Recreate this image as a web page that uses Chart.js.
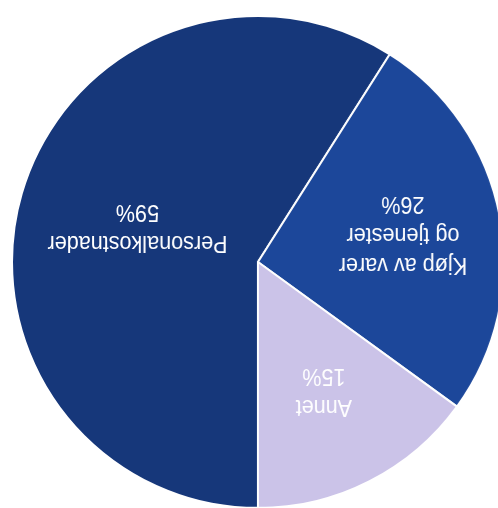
<!DOCTYPE html>
<html>
<head>
<meta charset="utf-8">
<script src="https://cdn.jsdelivr.net/npm/chart.js@4"></script>
<style>
  html, body { margin: 0; padding: 0; background: #fff; overflow: hidden; }
  body { width: 498px; height: 508px; position: relative; }
  /* the scanned page is upside down, so the whole pie is turned 180deg */
  #wrap { position: absolute; left: 11px; top: 15px; width: 494px; height: 494px; transform: rotate(180deg); }
</style>
</head>
<body>
<div id="wrap"><canvas id="pie"></canvas></div>
<script>
const labels = [["Personalkostnader"], ["Kjøp av varer", "og tjenester"], ["Annet"]];
const shares = [59, 26, 15];

const sliceColors = ["#16377a", "#1c479a", "#cbc3e8"];
// how far out along the bisector each label sits (fraction of radius)
const labelDepth = [0.51, 0.6, 0.59];

const sliceLabels = {
  id: "sliceLabels",
  afterDatasetsDraw(chart) {
    const ctx = chart.ctx;
    const arcs = chart.getDatasetMeta(0).data;
    ctx.save();
    ctx.fillStyle = "#ffffff";
    ctx.font = "24px 'Liberation Sans', Arial, sans-serif";
    ctx.textAlign = "center";
    ctx.textBaseline = "middle";
    const lineH = 30.5;
    arcs.forEach((arc, i) => {
      const p = arc.getProps(["x", "y", "startAngle", "endAngle", "outerRadius"], true);
      const mid = (p.startAngle + p.endAngle) / 2;
      const cx = p.x + Math.cos(mid) * p.outerRadius * labelDepth[i];
      const cy = p.y + Math.sin(mid) * p.outerRadius * labelDepth[i];
      const lines = labels[i].concat([shares[i] + "%"]);
      const top = cy - (lines.length - 1) * lineH / 2;
      lines.forEach((t, j) => {
        // the print uses a slightly condensed face
        ctx.save();
        ctx.translate(cx, top + j * lineH);
        ctx.scale(0.9, 1);
        ctx.fillText(t, 0, 0);
        ctx.restore();
      });
    });
    ctx.restore();
  },
};

new Chart(document.getElementById("pie"), {
  type: "pie",
  plugins: [sliceLabels],
  data: {
    labels: labels.map((l) => l.join(" ")),
    datasets: [{
      data: shares,
      backgroundColor: sliceColors,
      borderColor: "#ffffff",
      borderWidth: 2,
    }],
  },
  options: {
    responsive: true,
    maintainAspectRatio: false,
    animation: false,
    layout: { padding: 0 },
    plugins: {
      legend: { display: false },
      tooltip: { enabled: false },
    },
  },
});
</script>
</body>
</html>
